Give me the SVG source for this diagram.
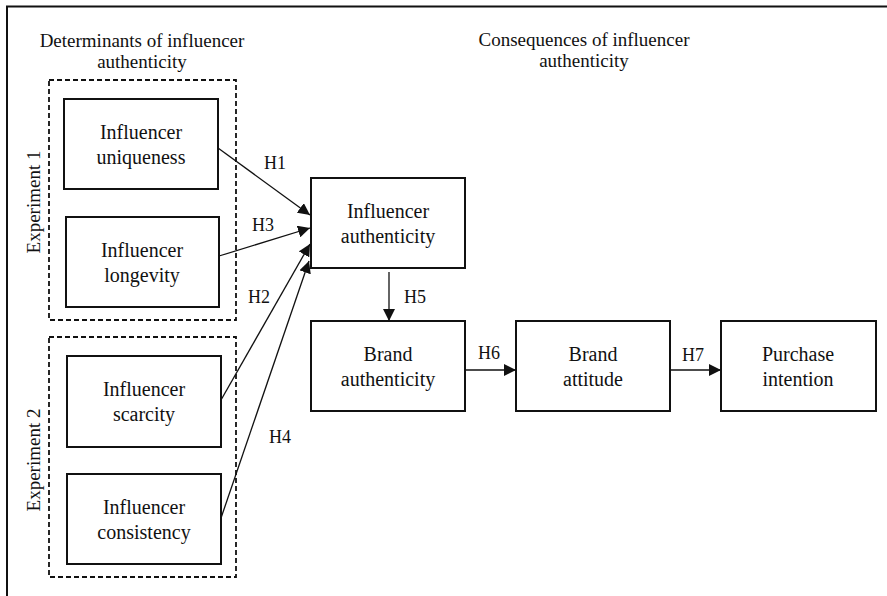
<svg xmlns="http://www.w3.org/2000/svg" width="887" height="596" viewBox="0 0 887 596">
<style>
text{font-family:"Liberation Serif","Times New Roman",serif;fill:#111;text-anchor:middle}
.n{font-size:20px}
.h{font-size:19px}
.l{font-size:18px}
.box{fill:#fff;stroke:#111;stroke-width:2}
.dash{fill:none;stroke:#111;stroke-width:1.8;stroke-dasharray:5,3}
.c{stroke:#111;stroke-width:1.3;fill:none;marker-end:url(#ah)}
</style>
<defs>
<marker id="ah" viewBox="0 0 10 10" refX="10" refY="5" markerWidth="12" markerHeight="12" markerUnits="userSpaceOnUse" orient="auto">
<path d="M0,0 L10,5 L0,10 z" fill="#111"/>
</marker>
</defs>
<rect width="887" height="596" fill="#fff"/>
<path d="M7,596 V6.5 H887" fill="none" stroke="#111" stroke-width="2"/>
<g id="headers">
<text class="h" x="142" y="47">Determinants of influencer</text>
<text class="h" x="142" y="68">authenticity</text>
<text class="h" x="584" y="46">Consequences of influencer</text>
<text class="h" x="584" y="67">authenticity</text>
</g>
<g id="experiment1">
<rect class="dash" x="49" y="80" width="187" height="240"/>
<text class="h" transform="translate(40,202) rotate(-90)">Experiment 1</text>
</g>
<g id="experiment2">
<rect class="dash" x="49" y="337" width="187" height="240"/>
<text class="h" transform="translate(40,460) rotate(-90)">Experiment 2</text>
</g>
<g id="uniqueness">
<rect class="box" x="64" y="99" width="154" height="90"/>
<text class="n" x="141" y="139">Influencer</text>
<text class="n" x="141" y="164">uniqueness</text>
</g>
<g id="longevity">
<rect class="box" x="66" y="217" width="153" height="90"/>
<text class="n" x="142" y="257">Influencer</text>
<text class="n" x="142" y="282">longevity</text>
</g>
<g id="scarcity">
<rect class="box" x="67" y="356" width="154" height="91"/>
<text class="n" x="144" y="396">Influencer</text>
<text class="n" x="144" y="421">scarcity</text>
</g>
<g id="consistency">
<rect class="box" x="67" y="474" width="154" height="90"/>
<text class="n" x="144" y="514">Influencer</text>
<text class="n" x="144" y="539">consistency</text>
</g>
<g id="influencer-authenticity">
<rect class="box" x="311" y="178" width="154" height="90"/>
<text class="n" x="388" y="218">Influencer</text>
<text class="n" x="388" y="243">authenticity</text>
</g>
<g id="brand-authenticity">
<rect class="box" x="311" y="321" width="154" height="90"/>
<text class="n" x="388" y="361">Brand</text>
<text class="n" x="388" y="386">authenticity</text>
</g>
<g id="brand-attitude">
<rect class="box" x="516" y="321" width="154" height="90"/>
<text class="n" x="593" y="361">Brand</text>
<text class="n" x="593" y="386">attitude</text>
</g>
<g id="purchase-intention">
<rect class="box" x="721" y="321" width="155" height="90"/>
<text class="n" x="798" y="361">Purchase</text>
<text class="n" x="798" y="386">intention</text>
</g>
<g id="connectors">
<line class="c" x1="218" y1="148" x2="310" y2="215"/>
<line class="c" x1="219" y1="256" x2="310" y2="228"/>
<line class="c" x1="221" y1="400" x2="310" y2="244"/>
<line class="c" x1="221" y1="518" x2="309" y2="261"/>
<line class="c" x1="389" y1="272" x2="389" y2="321"/>
<line class="c" x1="465" y1="370" x2="516" y2="370"/>
<line class="c" x1="670" y1="370" x2="721" y2="370"/>
<text class="l" x="275" y="169">H1</text>
<text class="l" x="263" y="231">H3</text>
<text class="l" x="259" y="303">H2</text>
<text class="l" x="280" y="443">H4</text>
<text class="l" x="415" y="303">H5</text>
<text class="l" x="489" y="359">H6</text>
<text class="l" x="693" y="361">H7</text>
</g>
</svg>
